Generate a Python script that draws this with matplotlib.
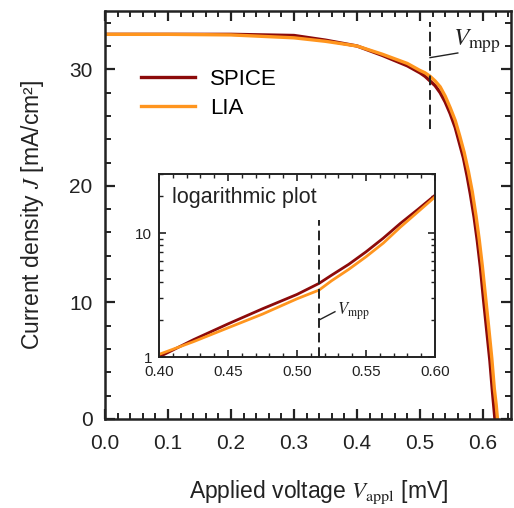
import matplotlib
matplotlib.use('Agg')
import matplotlib.pyplot as plt
import numpy as np
from matplotlib.ticker import MultipleLocator, LogLocator, NullFormatter, FixedLocator

plt.rcParams['font.family'] = ['Liberation Sans', 'DejaVu Sans']
plt.rcParams['mathtext.fontset'] = 'stix'

# J-V curves
v_spice = [0.0, 0.1, 0.2, 0.3, 0.35, 0.40, 0.44, 0.48, 0.50, 0.508, 0.516, 0.524,
           0.532, 0.540, 0.548, 0.556, 0.563, 0.569, 0.575, 0.580, 0.586, 0.591,
           0.596, 0.601, 0.606, 0.611, 0.615, 0.617, 0.619]
j_spice = [33.0, 33.0, 33.0, 32.9, 32.5, 32.0, 31.2, 30.3, 29.7, 29.4, 29.0, 28.6,
           28.0, 27.2, 26.2, 25.0, 23.6, 22.4, 20.8, 19.3, 17.3, 15.3,
           13.0, 10.2, 7.6, 5.0, 2.4, 1.2, 0.0]
v_lia = [0.0, 0.1, 0.2, 0.3, 0.35, 0.40, 0.44, 0.48, 0.50, 0.508, 0.516, 0.524,
         0.532, 0.540, 0.548, 0.556, 0.563, 0.570, 0.577, 0.583, 0.589, 0.594,
         0.599, 0.604, 0.609, 0.614, 0.618, 0.621, 0.623]
j_lia = [33.0, 33.0, 32.95, 32.7, 32.4, 32.0, 31.3, 30.5, 29.9, 29.7, 29.4, 29.0,
         28.5, 27.7, 26.7, 25.6, 24.3, 22.9, 21.2, 19.5, 17.4, 15.4,
         13.1, 10.5, 7.9, 5.2, 2.6, 1.2, 0.0]

# inset (log scale)
v_log = [0.40, 0.425, 0.45, 0.475, 0.50, 0.516, 0.525, 0.5375, 0.55, 0.5625,
         0.575, 0.5875, 0.60]
j_log_spice = [1.0, 1.38, 1.85, 2.45, 3.2, 3.93, 4.57, 5.6, 7.06, 9.1,
               12.0, 15.5, 20.2]
j_log_lia = [1.05, 1.33, 1.72, 2.22, 2.95, 3.47, 4.12, 5.1, 6.44, 8.3,
             11.2, 14.8, 19.6]

v_mpp = 0.516
c_spice = '#8c0a0a'
c_lia = '#ff951e'

fig = plt.figure(figsize=(5.14, 5.08), dpi=100)
ax = fig.add_axes([0.2043, 0.1752, 0.7893, 0.8031])

ax.plot(v_spice, j_spice, color=c_spice, lw=2.4, label='SPICE', solid_joinstyle='round')
ax.plot(v_lia, j_lia, color=c_lia, lw=2.4, label='LIA', solid_joinstyle='round')
ax.plot([v_mpp, v_mpp], [24.9, 34.1], color='#222222', lw=1.4, ls=(0, (5, 2.5)))
ax.plot([v_mpp, 0.560], [31.0, 31.4], color='#222222', lw=1.0)
ax.text(0.552, 32.0, r'$V_\mathrm{mpp}$', fontsize=18, color='#222222')

ax.set_xlim(0, 0.644)
ax.set_ylim(0, 35)
ax.xaxis.set_major_locator(FixedLocator([0.0, 0.1, 0.2, 0.3, 0.4, 0.5, 0.6]))
ax.xaxis.set_minor_locator(MultipleLocator(0.02))
ax.yaxis.set_major_locator(MultipleLocator(10))
ax.yaxis.set_minor_locator(MultipleLocator(2))
ax.set_xticklabels(['0.0', '0.1', '0.2', '0.3', '0.4', '0.5', '0.6'])
ax.tick_params(which='both', direction='in', top=True, right=True, colors='#222222',
               labelsize=15)
ax.tick_params(which='major', length=7, width=1.6)
ax.tick_params(which='minor', length=4, width=1.4)
ax.tick_params(axis='x', pad=11)
ax.tick_params(axis='y', pad=9)
for s in ax.spines.values():
    s.set_linewidth(1.8)
    s.set_color('#222222')

ax.set_xlabel(r'Applied voltage $V_\mathrm{appl}$ [mV]', fontsize=16.5,
              color='#222222')
ax.xaxis.set_label_coords(0.527, -0.145)
ax.set_ylabel(r'Current density $J$ [mA/cm²]', fontsize=16.5, labelpad=17,
              color='#222222')

leg = ax.legend(loc='upper left', bbox_to_anchor=(0.068, 0.88), frameon=False,
                fontsize=16, handlelength=2.4, handletextpad=0.7, labelspacing=0.35,
                borderaxespad=0)

# inset
axi = fig.add_axes([0.3093, 0.2972, 0.5370, 0.3603])
axi.plot(v_log, j_log_spice, color=c_spice, lw=2.0)
axi.plot(v_log, j_log_lia, color=c_lia, lw=2.0)
axi.set_yscale('log')
axi.plot([v_mpp, v_mpp], [1.0, 12.7], color='#222222', lw=1.4, ls=(0, (5, 2.5)))
axi.plot([v_mpp, 0.5275], [1.99, 2.32], color='#222222', lw=1.0)
axi.text(0.5288, 2.18, r'$V_\mathrm{mpp}$', fontsize=12, color='#222222')
axi.text(0.047, 0.93, 'logarithmic plot', transform=axi.transAxes, fontsize=15.5,
         va='top', ha='left', color='#222222')

axi.set_xlim(0.40, 0.60)
axi.set_ylim(1, 30)
axi.set_xticks([0.40, 0.45, 0.50, 0.55, 0.60])
axi.set_xticklabels(['0.40', '0.45', '0.50', '0.55', '0.60'])
axi.xaxis.set_minor_locator(MultipleLocator(0.01))
axi.yaxis.set_major_locator(FixedLocator([1, 10]))
axi.set_yticklabels(['1', '10'])
axi.yaxis.set_minor_locator(LogLocator(base=10, subs=np.arange(2, 10)))
axi.yaxis.set_minor_formatter(NullFormatter())
axi.tick_params(which='both', direction='in', top=True, right=True, colors='#222222',
                labelsize=11)
axi.tick_params(which='major', length=5, width=1.2)
axi.tick_params(which='minor', length=3, width=1.0)
axi.tick_params(axis='x', pad=6)
axi.tick_params(axis='y', pad=5)
for s in axi.spines.values():
    s.set_linewidth(1.4)
    s.set_color('#222222')

fig.savefig('out.png', dpi=100)
